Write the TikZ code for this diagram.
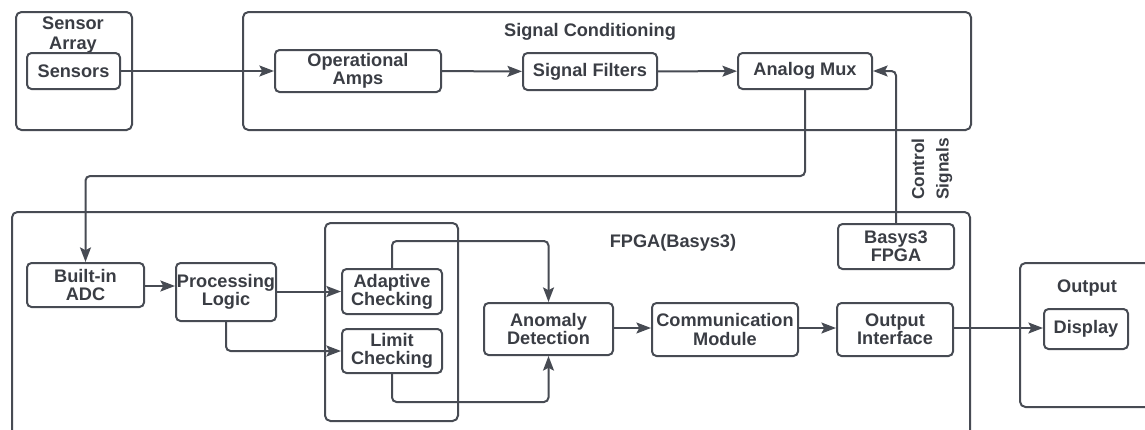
\documentclass[tikz,border=0pt]{standalone}
\usepackage{fontspec}
\setmainfont{Liberation Sans}
\usetikzlibrary{arrows.meta}

\definecolor{linegray}{HTML}{474B53}
\definecolor{textgray}{HTML}{3A3D44}

\tikzset{
  wh/.style 2 args={minimum width=#1*0.55pt, minimum height=#2*0.55pt},
  blockbox/.style={draw=linegray, line width=1.1pt, rounded corners=2.5pt,
    inner sep=0pt, align=center, text=textgray,
    font=\fontsize{10}{10}\selectfont\bfseries},
  groupbox/.style={draw=linegray, line width=1.1pt, rounded corners=3pt, inner sep=0pt},
  grouptitle/.style={text=textgray, align=center, inner sep=0pt,
    font=\fontsize{10}{10.5}\selectfont\bfseries},
  arr/.style={draw=linegray, line width=1.1pt, rounded corners=2.5pt,
    -{Stealth[length=8pt,width=6pt,inset=1.5pt]}},
}

\begin{document}
\begin{tikzpicture}[x=0.55pt, y=-0.55pt]
  \useasboundingbox (0,0) rectangle (1145,429);
  \clip (0,0) rectangle (1145,429);

  % containers
  \node[groupbox, wh={116}{118}] (sarray) at (74,71) {};
  \node[groupbox, wh={728}{118}] (sigcond) at (607,71) {};
  \node[groupbox, wh={958}{240}] (fpga) at (491,332) {};
  \node[groupbox, wh={133}{198}] (checks) at (391.5,322) {};
  \node[groupbox, wh={150}{144}] (outbox) at (1095,335) {};

  \node[grouptitle] (sarraytitle) at (73,35) {Sensor\\Array};
  \node[grouptitle] (sigtitle) at (590,32) {Signal Conditioning};
  \node[grouptitle] (fpgatitle) at (673,243) {FPGA(Basys3)};
  \node[grouptitle] (outtitle) at (1087,288) {Output};

  % blocks
  \node[blockbox, wh={93}{36}] (sensors) at (73.5,71) {Sensors};
  \node[blockbox, wh={166}{42}] (opamps) at (358,71) {Operational\\Amps};
  \node[blockbox, wh={134}{37}] (filters) at (590,71.5) {Signal Filters};
  \node[blockbox, wh={134}{36}] (mux) at (805,71) {Analog Mux};

  \node[blockbox, wh={116}{45}] (basys) at (896,246.5) {Basys3\\FPGA};
  \node[blockbox, wh={117}{44}] (adc) at (85.5,285) {Built-in\\ADC};
  \node[blockbox, wh={100}{58}] (proc) at (226,292) {Processing\\Logic};
  \node[blockbox, wh={100}{45}] (adapt) at (392,291.5) {Adaptive\\Checking};
  \node[blockbox, wh={100}{44}] (limit) at (392,351) {Limit\\Checking};
  \node[blockbox, wh={129}{52}] (anomaly) at (548.5,329) {Anomaly\\Detection};
  \node[blockbox, wh={146}{53}] (comm) at (725,329.5) {Communication\\Module};
  \node[blockbox, wh={116}{53}] (outif) at (895,329.5) {Output\\Interface};
  \node[blockbox, wh={84}{40}] (display) at (1086,329) {Display};

  \node[grouptitle, rotate=90, font=\fontsize{9.5}{13.5}\selectfont\bfseries] (ctrl) at (932,169) {Control\\Signals};

  % connections
  \draw[arr] (sensors) -- (opamps);
  \draw[arr] (opamps) -- (filters);
  \draw[arr] (filters) -- (mux);
  \draw[arr] (mux.south) -- ++(0,86) -| (adc.north);
  \draw[arr] (basys.north) |- (mux.east);
  \draw[arr] (adc.east |- 0,286) -- (proc.west |- 0,286);
  \draw[arr] (proc.east |- adapt.west) -- (adapt.west);
  \draw[arr] (proc.south) |- (limit.west);
  \draw[arr] (adapt.north) -- ++(0,-27) -| (anomaly.north);
  \draw[arr] (limit.south) -- ++(0,28) -| (anomaly.south);
  \draw[arr] (anomaly.east |- 0,328) -- (comm.west |- 0,328);
  \draw[arr] (comm.east |- 0,328) -- (outif.west |- 0,328);
  \draw[arr] (outif.east |- 0,328) -- (display.west |- 0,328);
\end{tikzpicture}
\end{document}
